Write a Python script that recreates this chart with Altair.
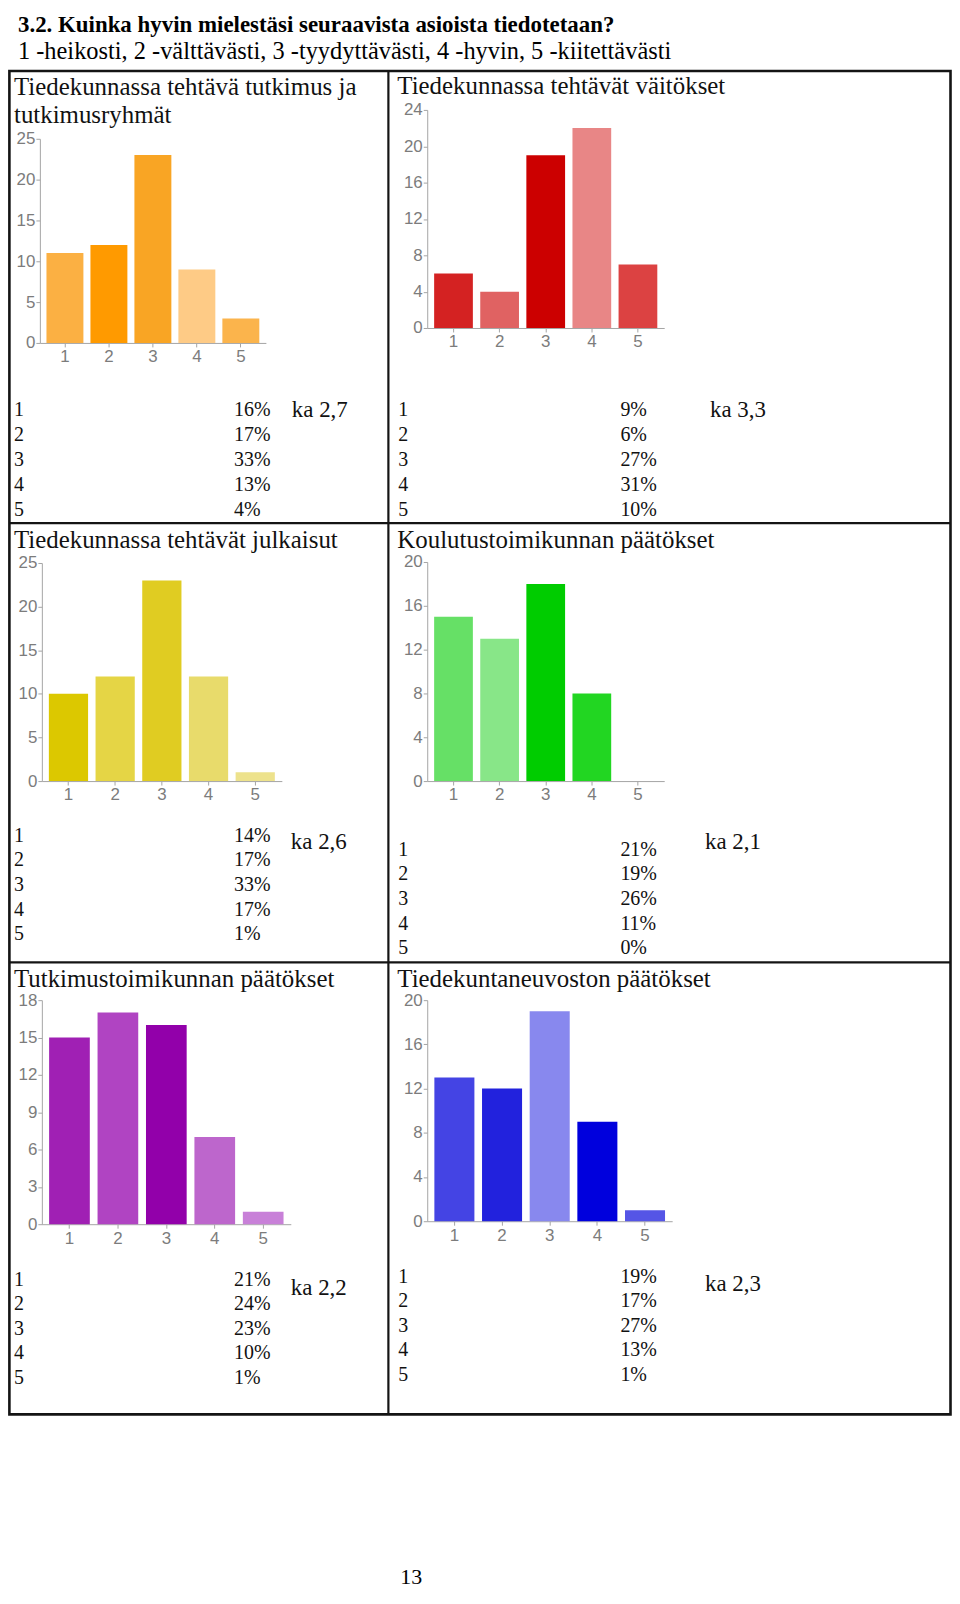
import altair as alt
import pandas as pd

# ---------------- data ----------------
CATS = ["1", "2", "3", "4", "5"]

MAIN_TITLE = "3.2. Kuinka hyvin mielestäsi seuraavista asioista tiedotetaan?"
SCALE_NOTE = "1 -heikosti, 2 -välttävästi, 3 -tyydyttävästi, 4 -hyvin, 5 -kiitettävästi"
PAGE_NO = "13"

p1_title = ["Tiedekunnassa tehtävä tutkimus ja", "tutkimusryhmät"]
p1_counts = [11, 12, 23, 9, 3]
p1_yticks = [0, 5, 10, 15, 20, 25]
p1_pct = ["16%", "17%", "33%", "13%", "4%"]
p1_mean = "ka 2,7"
p1_colors = ["#FBB043", "#FF9A00", "#F9A524", "#FECB86", "#FBB44C"]

p2_title = ["Tiedekunnassa tehtävät väitökset"]
p2_counts = [6, 4, 19, 22, 7]
p2_yticks = [0, 4, 8, 12, 16, 20, 24]
p2_pct = ["9%", "6%", "27%", "31%", "10%"]
p2_mean = "ka 3,3"
p2_colors = ["#D42222", "#E06262", "#CC0000", "#E88686", "#DC4242"]

p3_title = ["Tiedekunnassa tehtävät julkaisut"]
p3_counts = [10, 12, 23, 12, 1]
p3_yticks = [0, 5, 10, 15, 20, 25]
p3_pct = ["14%", "17%", "33%", "17%", "1%"]
p3_mean = "ka 2,6"
p3_colors = ["#DCC800", "#E5D545", "#E0CC22", "#E8DB6B", "#EDE28C"]

p4_title = ["Koulutustoimikunnan päätökset"]
p4_counts = [15, 13, 18, 8, 0]
p4_yticks = [0, 4, 8, 12, 16, 20]
p4_pct = ["21%", "19%", "26%", "11%", "0%"]
p4_mean = "ka 2,1"
p4_colors = ["#66E066", "#88E688", "#00CC00", "#22D622", "#44DB44"]

p5_title = ["Tutkimustoimikunnan päätökset"]
p5_counts = [15, 17, 16, 7, 1]
p5_yticks = [0, 3, 6, 9, 12, 15, 18]
p5_pct = ["21%", "24%", "23%", "10%", "1%"]
p5_mean = "ka 2,2"
p5_colors = ["#A020B4", "#B044C2", "#9200AA", "#BD66CC", "#C880D8"]

p6_title = ["Tiedekuntaneuvoston päätökset"]
p6_counts = [13, 12, 19, 9, 1]
p6_yticks = [0, 4, 8, 12, 16, 20]
p6_pct = ["19%", "17%", "27%", "13%", "1%"]
p6_mean = "ka 2,3"
p6_colors = ["#4444E4", "#2222DD", "#8888EE", "#0000DD", "#5555E6"]

PANELS = [
    (p1_title, p1_counts, p1_yticks, p1_pct, p1_mean, p1_colors),
    (p2_title, p2_counts, p2_yticks, p2_pct, p2_mean, p2_colors),
    (p3_title, p3_counts, p3_yticks, p3_pct, p3_mean, p3_colors),
    (p4_title, p4_counts, p4_yticks, p4_pct, p4_mean, p4_colors),
    (p5_title, p5_counts, p5_yticks, p5_pct, p5_mean, p5_colors),
    (p6_title, p6_counts, p6_yticks, p6_pct, p6_mean, p6_colors),
]

# ---------------- layout (page pixels) ----------------
W, H = 944, 1576
OX, OY = 8, 8
SERIF = "Liberation Serif"
SANS = "Liberation Sans"
INK = "#141414"


def px(x):
    return x - OX


def py(y):
    return y - OY


LAYOUT = [
    dict(title=(14, 92), xr=(40, 267), yr=(341, 136), lab_x=14, pct_x=235, rows=(408, 509), ka=(293, 408)),
    dict(title=(399, 91), xr=(429, 667), yr=(326, 107), lab_x=400, pct_x=623, rows=(408, 509), ka=(713, 408)),
    dict(title=(14, 547), xr=(42, 283), yr=(781, 562), lab_x=14, pct_x=235, rows=(836, 935), ka=(292, 842)),
    dict(title=(399, 547), xr=(429, 667), yr=(781, 561), lab_x=400, pct_x=623, rows=(850, 949), ka=(708, 842)),
    dict(title=(14, 988), xr=(42, 292), yr=(1226, 1001), lab_x=14, pct_x=235, rows=(1282, 1380), ka=(292, 1290)),
    dict(title=(399, 988), xr=(429, 675), yr=(1223, 1001), lab_x=400, pct_x=623, rows=(1279, 1377), ka=(708, 1286)),
]

layers = []

# frame of the table
layers.append(
    alt.Chart().mark_rect(fill="transparent", stroke=INK, strokeWidth=2.6).encode(
        x=alt.value(px(9.4)), x2=alt.value(px(954.5)), y=alt.value(py(68)), y2=alt.value(py(1417))
    )
)
for yy in (522, 963):
    layers.append(
        alt.Chart().mark_rule(color=INK, strokeWidth=2.2).encode(
            x=alt.value(px(9.4)), x2=alt.value(px(954.5)), y=alt.value(py(yy))
        )
    )
layers.append(
    alt.Chart().mark_rule(color=INK, strokeWidth=2.2).encode(
        x=alt.value(px(390)), y=alt.value(py(68)), y2=alt.value(py(1417))
    )
)

# page texts
layers.append(
    alt.Chart(pd.DataFrame({"t": [MAIN_TITLE]})).mark_text(
        align="left", baseline="alphabetic", font=SERIF, fontSize=23, fontWeight="bold", color="#000"
    ).encode(x=alt.value(px(18)), y=alt.value(py(29)), text="t:N")
)
layers.append(
    alt.Chart(pd.DataFrame({"t": [SCALE_NOTE]})).mark_text(
        align="left", baseline="alphabetic", font=SERIF, fontSize=24.5, color="#000"
    ).encode(x=alt.value(px(18)), y=alt.value(py(56)), text="t:N")
)
layers.append(
    alt.Chart(pd.DataFrame({"t": [PAGE_NO]})).mark_text(
        align="center", baseline="middle", font=SERIF, fontSize=22, color="#000"
    ).encode(x=alt.value(px(413)), y=alt.value(py(1580)), text="t:N")
)

for (title, counts, yticks, pct, mean, colors), L in zip(PANELS, LAYOUT):
    # cell title lines
    tx, ty = L["title"]
    for i, line in enumerate(title):
        layers.append(
            alt.Chart(pd.DataFrame({"t": [line]})).mark_text(
                align="left", baseline="alphabetic", font=SERIF, fontSize=25, color="#111"
            ).encode(x=alt.value(px(tx)), y=alt.value(py(ty + 28 * i)), text="t:N")
        )

    # bar chart
    x0, x1 = L["xr"]
    yb, yt = L["yr"]
    df = pd.DataFrame({"cat": CATS, "n": counts, "col": colors})
    bars = alt.Chart(df).mark_bar().encode(
        x=alt.X(
            "cat:O",
            scale=alt.Scale(domain=CATS, range=[px(x0), px(x1)], paddingInner=0.16, paddingOuter=0.15),
            axis=alt.Axis(orient="bottom", offset=py(yb) - H, title=None, labelAngle=0,
                          labelPadding=2, tickSize=4),
        ),
        y=alt.Y(
            "n:Q",
            scale=alt.Scale(domain=[0, yticks[-1]], range=[py(yb), py(yt)], nice=False, zero=True),
            axis=alt.Axis(orient="left", offset=-px(x0), values=yticks, title=None,
                          labelPadding=1, tickSize=4),
        ),
        color=alt.Color("col:N", scale=None),
    )
    layers.append(bars)

    # table of percentages
    r0, r1 = L["rows"]
    tdf = pd.DataFrame({"cat": CATS, "pct": pct})
    yrow = alt.Y("cat:O", scale=alt.Scale(domain=CATS, range=[py(r0), py(r1)], padding=0), axis=None)
    layers.append(
        alt.Chart(tdf).mark_text(align="left", baseline="middle", font=SERIF, fontSize=20, color="#111").encode(
            x=alt.value(px(L["lab_x"])), y=yrow, text="cat:N"
        )
    )
    layers.append(
        alt.Chart(tdf).mark_text(align="left", baseline="middle", font=SERIF, fontSize=20, color="#111").encode(
            x=alt.value(px(L["pct_x"])), y=yrow, text="pct:N"
        )
    )
    kx, ky = L["ka"]
    layers.append(
        alt.Chart(pd.DataFrame({"ka": [mean]})).mark_text(
            align="left", baseline="middle", font=SERIF, fontSize=23, color="#111"
        ).encode(x=alt.value(px(kx)), y=alt.value(py(ky)), text="ka:N")
    )

chart = (
    alt.layer(*layers)
    .resolve_scale(x="independent", y="independent")
    .resolve_axis(x="independent", y="independent")
    .properties(
        width=W,
        height=H,
        autosize=alt.AutoSizeParams(type="none"),
        padding={"left": 0, "top": 0, "right": 4, "bottom": 4},
        background="white",
    )
    .configure_view(stroke=None)
    .configure_axis(
        grid=False,
        labelFont=SANS,
        labelFontSize=17,
        labelColor="#7c7c7c",
        domainColor="#a4a4a4",
        tickColor="#a4a4a4",
        domainWidth=1,
        tickWidth=1,
    )
)

chart.save("out.html", embed_options={"renderer": "svg", "actions": False})
